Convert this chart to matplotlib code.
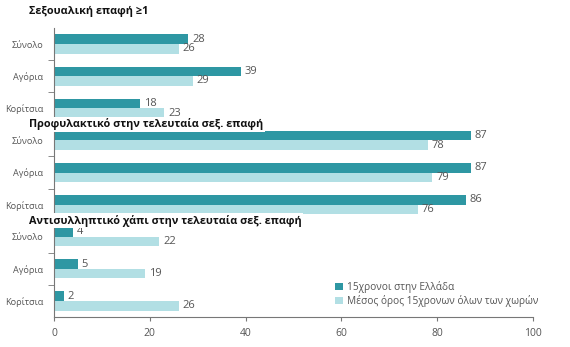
import numpy as np
import matplotlib
matplotlib.use("Agg")
import matplotlib.pyplot as plt
from matplotlib.patches import Patch

# Data
section_titles = ["Σεξουαλική επαφή ≥1",
                  "Προφυλακτικό στην τελευταία σεξ. επαφή",
                  "Αντισυλληπτικό χάπι στην τελευταία σεξ. επαφή"]
categories = ["Σύνολο", "Αγόρια", "Κορίτσια"]
greece = [28, 39, 18, 87, 87, 86, 4, 5, 2]
average = [26, 29, 23, 78, 79, 76, 22, 19, 26]
series_names = ["15χρονοι στην Ελλάδα", "Μέσος όρος 15χρονων όλων των χωρών"]
x_ticks = [0, 20, 40, 60, 80, 100]

dark = "#2E97A3"
light = "#B2DFE4"
grey_text = "#555555"

plt.rcParams['font.family'] = ['Open Sans', 'DejaVu Sans']

fig = plt.figure(figsize=(5.7, 3.47), dpi=100)
ax = fig.add_axes([54 / 570, 1 - 317 / 347, 479 / 570, 289 / 347])

pos = np.arange(len(greece))
h = 0.3
ax.barh(pos - h / 2, greece, height=h, color=dark, zorder=2)
ax.barh(pos + h / 2, average, height=h, color=light, zorder=2)

# value labels
for p, v in zip(pos, greece):
    ax.text(v + 0.8, p - h / 2, str(v), va="center", ha="left", fontsize=8, color=grey_text)
for p, v in zip(pos, average):
    ax.text(v + 0.8, p + h / 2, str(v), va="center", ha="left", fontsize=8, color=grey_text)

ax.set_xlim(0, 100)
ax.set_ylim(8.5, -0.5)
ax.set_xticks(x_ticks)
ax.set_xticklabels([str(t) for t in x_ticks], fontsize=7.5, color=grey_text)
ax.tick_params(axis="x", direction="out", length=3, color="#777777", pad=5)

ax.set_yticks(pos)
ax.set_yticklabels(categories * len(section_titles), fontsize=6.6, color=grey_text)
ax.tick_params(axis="y", which="major", length=0, pad=8)
ax.set_yticks(np.arange(0.5, 8.5, 1.0), minor=True)
ax.tick_params(axis="y", which="minor", length=4, color="#777777")

for side in ["top", "right"]:
    ax.spines[side].set_visible(False)
for side in ["left", "bottom"]:
    ax.spines[side].set_color("#777777")

# section titles over the gaps between groups
title_y = [-1.0, 2.5, 5.5]
for t, y in zip(section_titles, title_y):
    ax.text(-0.052, y, t, transform=ax.get_yaxis_transform(), ha="left", va="center",
            fontsize=7.8, fontweight="bold", color="#111111", zorder=5,
            bbox=dict(facecolor="white", edgecolor="none", pad=1.2))

handles = [Patch(facecolor=dark, edgecolor="none"), Patch(facecolor=light, edgecolor="none")]
leg = fig.legend(handles, series_names, loc="upper left", bbox_to_anchor=(335 / 570, 1 - 281 / 347),
                 frameon=False, fontsize=7.3, handlelength=0.8, handleheight=0.8,
                 handletextpad=0.4, labelspacing=0.2, borderaxespad=0, borderpad=0)
for txt in leg.get_texts():
    txt.set_color(grey_text)

fig.savefig("out.png", dpi=100)
